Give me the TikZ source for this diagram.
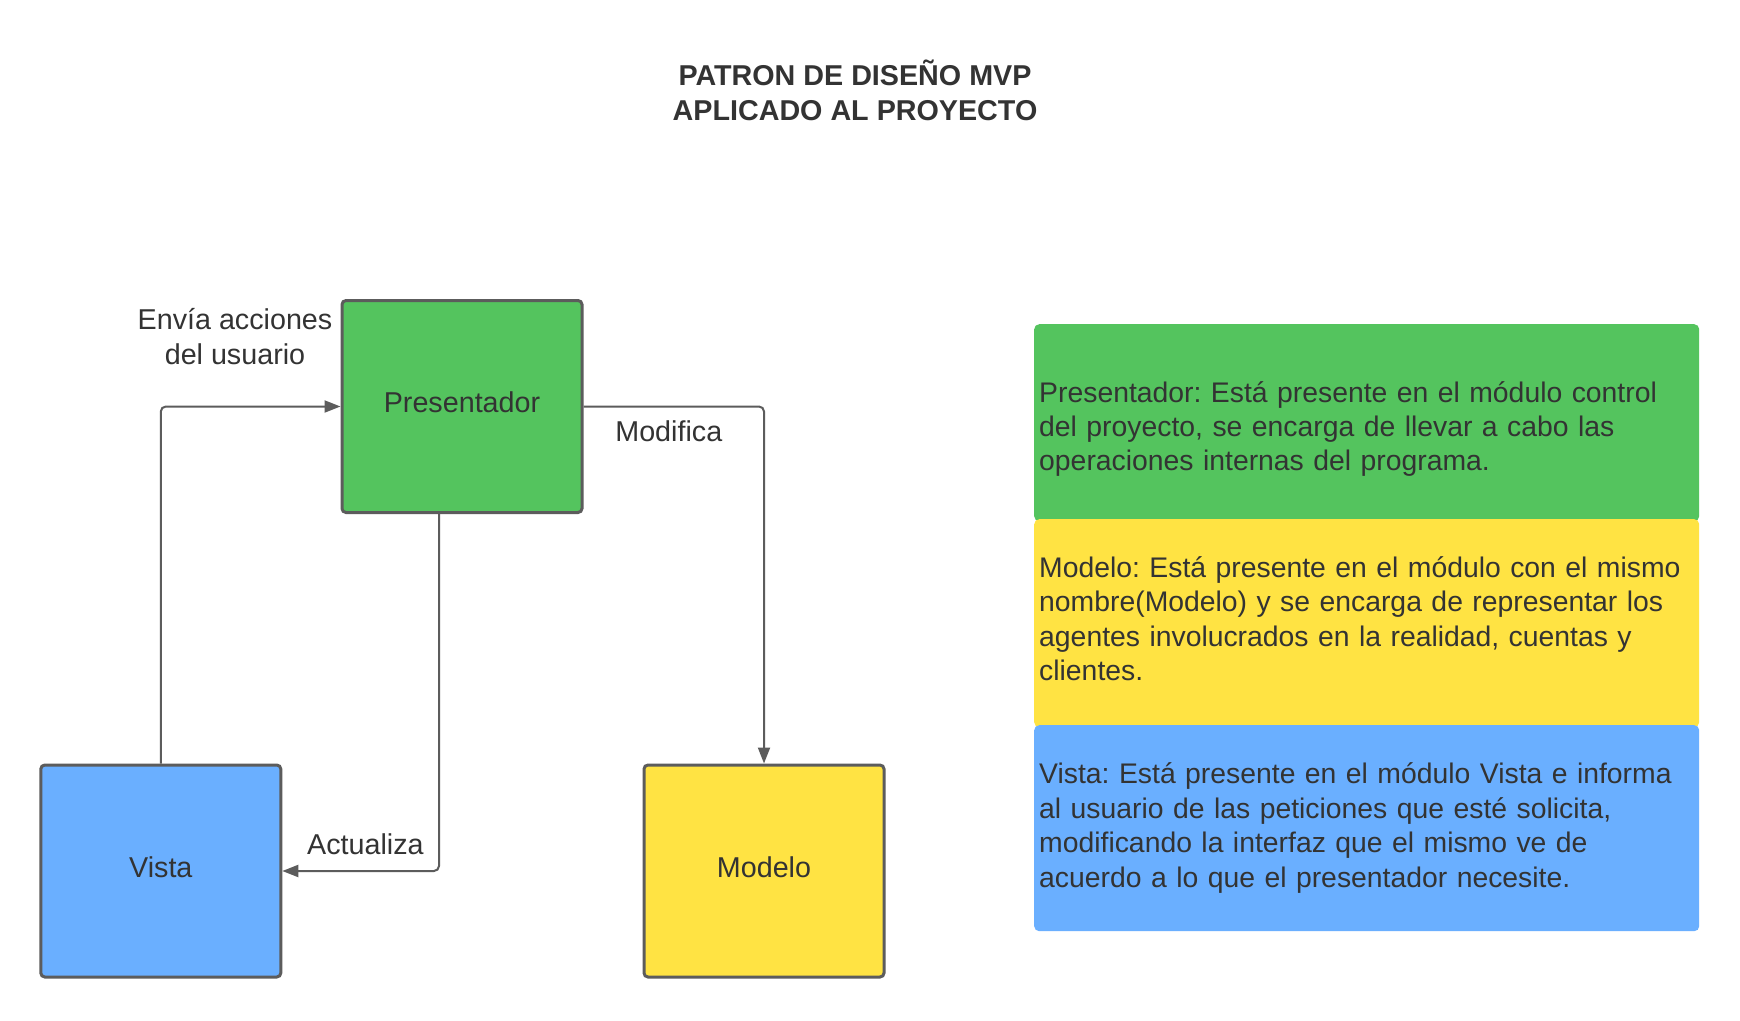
\documentclass[tikz,border=0pt]{standalone}
\usepackage{fontspec}
\setmainfont{Liberation Sans}
\usetikzlibrary{arrows.meta}
\definecolor{txt}{HTML}{333333}
\definecolor{edgec}{HTML}{5C5C5C}
\definecolor{gfill}{HTML}{54C45E}
\definecolor{yfill}{HTML}{FFE343}
\definecolor{bfill}{HTML}{6AAFFF}
\frenchspacing
\begin{document}
\begin{tikzpicture}[x=1pt,y=-1pt,
  mainfont/.style={font=\fontsize{28.7}{34.4}\selectfont\frenchspacing},
  box/.style={draw=edgec, line width=3pt, rounded corners=4pt, minimum width=240pt, minimum height=212pt, inner sep=0pt, text=txt, text height=20pt, text depth=7.6pt, mainfont},
  panel/.style={rounded corners=5pt, minimum width=665pt, minimum height=#1, inner sep=0pt, anchor=north west},
  ptext/.style={anchor=west, inner sep=0pt, text width=655pt, align=left, text=txt, font=\fontsize{28.35}{34.4}\selectfont\frenchspacing},
  lbl/.style={text=txt, mainfont, align=center, inner sep=0pt},
  conn/.style={draw=edgec, line width=2pt, rounded corners=5pt, -{Triangle[length=16pt,width=12pt]}},
]
\fill[white] (0,0) rectangle (1740,1020);
\useasboundingbox (0,0) rectangle (1740,1020);

\node[lbl, font=\bfseries\fontsize{28.7}{34.4}\selectfont] (title) at (855,90.4) {PATRON DE DISEÑO MVP\\APLICADO AL PROYECTO};

\node[box, fill=gfill] (P) at (462,406.5) {Presentador};
\node[box, fill=bfill] (V) at (160.8,871) {Vista};
\node[box, fill=yfill] (M) at (764,871) {Modelo};

\draw[conn] (V.north) |- (P.west);
\draw[conn] (P.east) -| (M.north);
\draw[conn] ([xshift=-23pt]P.south) |- (V.east);

\node[lbl] (lenv) at (235,336.6) {Envía acciones\\del usuario};
\node[lbl] (lmod) at (668.8,431.4) {Modifica};
\node[lbl] (lact) at (365.4,844) {Actualiza};

\node[panel=197pt, fill=gfill] (pg) at (1034,324) {};
\node[panel=208pt, fill=yfill] (py) at (1034,519) {};
\node[panel=206pt, fill=bfill] (pb) at (1034,725) {};

\node[ptext] (tg) at (1039,429) {Presentador: Está presente en el módulo control\\del proyecto, se encarga de llevar a cabo las\\operaciones internas del programa.};
\node[ptext] (ty) at (1039,618.6) {Modelo: Está presente en el módulo con el mismo\\nombre(Modelo) y se encarga de representar los\\agentes involucrados en la realidad, cuentas y\\clientes.};
\node[ptext] (tb) at (1039,828) {Vista: Está presente en el módulo Vista e informa\\al usuario de las peticiones que esté solicita,\\modificando la interfaz que el mismo ve de\\acuerdo a lo que el presentador necesite.};
\end{tikzpicture}
\end{document}
